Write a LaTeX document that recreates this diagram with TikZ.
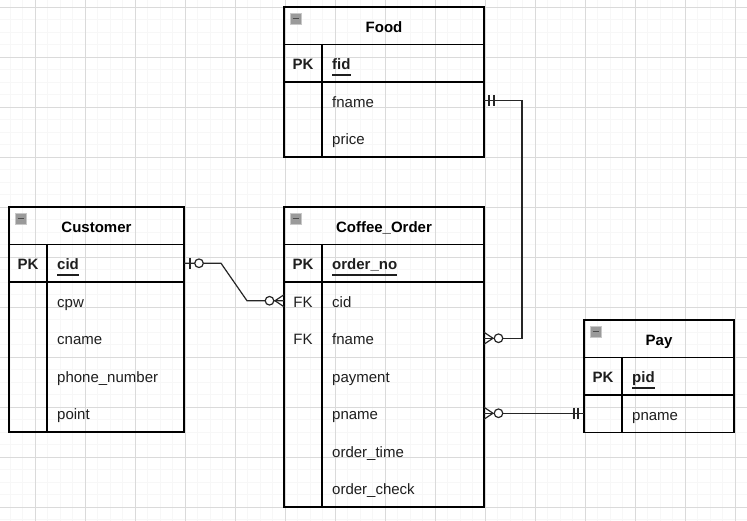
\documentclass[tikz,border=0pt]{standalone}
\usepackage{fontspec}
\setmainfont{Liberation Sans}
\usetikzlibrary{calc}
\definecolor{gridmajor}{HTML}{DADADA}
\definecolor{gridminor}{HTML}{F7F7F7}
\definecolor{txt}{HTML}{1E1E1E}
\definecolor{iconfill}{HTML}{9A9A9A}
\definecolor{iconline}{HTML}{C8C8C8}
\newcommand\ulx[1]{\setbox0\hbox{#1}\rlap{\vrule width\wd0 height -4.3pt depth 5.8pt}\box0}
\newcommand\ERrow[6]{%
  \node[rowbox, minimum width=#4pt] (#1) at (#2,#3) {};
  \node[keytxt] at ($(#1.west)+(19,2.5)$) {#5};
  \node[attrtxt] at ($(#1.west)+(48,2.5)$) {#6};}
\newcommand\ERtable[6]{% name, x, y, width, height, title
  \node[framebox, minimum width=#4pt, minimum height=#5pt] (#1) at (#2,#3) {};
  \node[rowbox, minimum width=#4pt] (#1-h) at (#2,#3) {};
  \node[titletxt] at ($(#1-h.center)+(0,3)$) {#6};
  \draw[iconbox] ($(#1.north west)+(6,6)$) rectangle ++(11,11);
  \draw[iconbar] ($(#1.north west)+(8.5,11.5)$) -- ++(6,0);
  \draw[tblline] (#1-h.south west) -- (#1-h.south east);}
\tikzset{
  framebox/.style={draw, line width=1.1pt, inner sep=0pt, outer sep=0pt, anchor=north west},
  rowbox/.style={inner sep=0pt, outer sep=0pt, anchor=north west, minimum height=37.5pt},
  tblline/.style={line width=1.1pt},
  keytxt/.style={inner sep=0pt, text height=11pt, text depth=3pt, text=txt, font=\fontsize{15}{18}\selectfont},
  attrtxt/.style={anchor=west, inner sep=0pt, text height=11pt, text depth=3pt, text=txt, font=\fontsize{15}{18}\selectfont},
  titletxt/.style={inner sep=0pt, text height=11pt, text depth=3pt, font=\fontsize{15}{18}\selectfont\bfseries},
  iconbox/.style={fill=iconfill, draw=iconline, line width=0.8pt},
  iconbar/.style={draw=black!70, line width=1.6pt},
  conn/.style={line width=1.2pt, draw=black!85},
  ring/.style={line width=1.2pt, draw=black!85, fill=white},
}
\begin{document}
\begin{tikzpicture}[x=1pt,y=-1pt]
\useasboundingbox (0,0) rectangle (747,521);
\fill[white] (0,0) rectangle (747,521);
% grid
\foreach \i in {0,...,59} \draw[gridminor, line width=0.4pt] ({10+12.5*\i},0) -- ({10+12.5*\i},521);
\foreach \i in {0,...,41} \draw[gridminor, line width=0.4pt] (0,{7+12.5*\i}) -- (747,{7+12.5*\i});
\foreach \i in {0,...,14} \draw[gridmajor, line width=0.8pt] ({35+50*\i},0) -- ({35+50*\i},521);
\foreach \i in {0,...,10} \draw[gridmajor, line width=0.8pt] (0,{7+50*\i}) -- (747,{7+50*\i});

% Food
\ERtable{food}{284}{7}{200}{150}{Food}
\ERrow{f-fid}{284}{44.5}{200}{\bfseries PK}{\bfseries\ulx{fid}}
\ERrow{f-fname}{284}{82}{200}{}{fname}
\ERrow{f-price}{284}{119.5}{200}{}{price}
\draw[tblline] (f-fid.south west) -- (f-fid.south east);
\draw[tblline] ($(f-fid.north west)+(38,0)$) -- ($(food.south west)+(38,0)$);

% Customer
\ERtable{cust}{9}{207}{175}{225}{Customer}
\ERrow{c-cid}{9}{244.5}{175}{\bfseries PK}{\bfseries\ulx{cid}}
\ERrow{c-cpw}{9}{282}{175}{}{cpw}
\ERrow{c-cname}{9}{319.5}{175}{}{cname}
\ERrow{c-phone}{9}{357}{175}{}{phone\_number}
\ERrow{c-point}{9}{394.5}{175}{}{point}
\draw[tblline] (c-cid.south west) -- (c-cid.south east);
\draw[tblline] ($(c-cid.north west)+(38,0)$) -- ($(cust.south west)+(38,0)$);

% Coffee_Order
\ERtable{ord}{284}{207}{200}{300}{Coffee\_Order}
\ERrow{o-no}{284}{244.5}{200}{\bfseries PK}{\bfseries\ulx{order\_no}}
\ERrow{o-cid}{284}{282}{200}{FK}{cid}
\ERrow{o-fname}{284}{319.5}{200}{FK}{fname}
\ERrow{o-payment}{284}{357}{200}{}{payment}
\ERrow{o-pname}{284}{394.5}{200}{}{pname}
\ERrow{o-time}{284}{432}{200}{}{order\_time}
\ERrow{o-check}{284}{469.5}{200}{}{order\_check}
\draw[tblline] (o-no.south west) -- (o-no.south east);
\draw[tblline] ($(o-no.north west)+(38,0)$) -- ($(ord.south west)+(38,0)$);

% Pay
\ERtable{pay}{584}{320}{150}{112.5}{Pay}
\ERrow{p-pid}{584}{357.5}{150}{\bfseries PK}{\bfseries\ulx{pid}}
\ERrow{p-pname}{584}{395}{150}{}{pname}
\draw[tblline] (p-pid.south west) -- (p-pid.south east);
\draw[tblline] ($(p-pid.north west)+(38,0)$) -- ($(pay.south west)+(38,0)$);

% Customer.cid -> Coffee_Order.cid
\draw[conn] (c-cid.east) -- ++(37,0) -- ($(o-cid.west)+(-37,0)$) -- (o-cid.west);
\draw[conn] ($(c-cid.east)+(6,-5.5)$) -- ++(0,11);
\draw[ring] ($(c-cid.east)+(15,0)$) circle[radius=4.3pt];
\draw[conn] ($(o-cid.west)+(-9,0)$) -- ($(o-cid.west)+(0,-6)$);
\draw[conn] ($(o-cid.west)+(-9,0)$) -- ($(o-cid.west)+(0,6)$);
\draw[ring] ($(o-cid.west)+(-14.5,0)$) circle[radius=4.3pt];

% Food.fname -> Coffee_Order.fname
\draw[conn] (f-fname.east) -- ++(38,0) |- (o-fname.east);
\draw[conn] ($(f-fname.east)+(5,-5.5)$) -- ++(0,11);
\draw[conn] ($(f-fname.east)+(10,-5.5)$) -- ++(0,11);
\draw[conn] ($(o-fname.east)+(9,0)$) -- ($(o-fname.east)+(0,-6)$);
\draw[conn] ($(o-fname.east)+(9,0)$) -- ($(o-fname.east)+(0,6)$);
\draw[ring] ($(o-fname.east)+(14.5,0)$) circle[radius=4.3pt];

% Coffee_Order.pname -> Pay.pname
\draw[conn] (o-pname.east) -- (o-pname.east -| p-pname.west);
\draw[conn] ($(o-pname.east)+(9,0)$) -- ($(o-pname.east)+(0,-6)$);
\draw[conn] ($(o-pname.east)+(9,0)$) -- ($(o-pname.east)+(0,6)$);
\draw[ring] ($(o-pname.east)+(14.5,0)$) circle[radius=4.3pt];
\draw[conn] ($(o-pname.east -| p-pname.west)+(-6,-5.5)$) -- ++(0,11);
\draw[conn] ($(o-pname.east -| p-pname.west)+(-10,-5.5)$) -- ++(0,11);
\end{tikzpicture}
\end{document}
